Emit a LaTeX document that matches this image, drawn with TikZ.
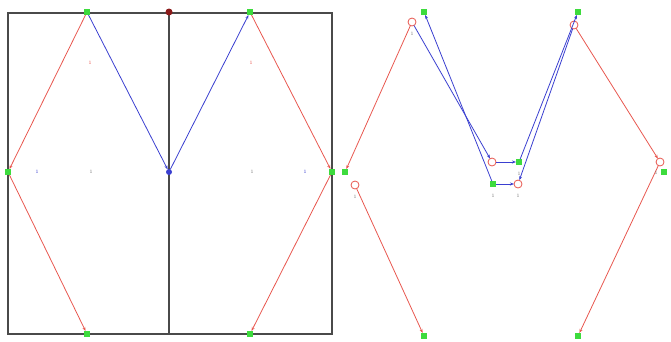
\documentclass[tikz,border=0pt]{standalone}
\usepackage{tikz}
\usetikzlibrary{arrows.meta}
\usepackage{xcolor}
\definecolor{marco}{HTML}{4A4A4A}
\definecolor{rojo}{HTML}{E8574F}
\definecolor{azul}{HTML}{3A3FD0}
\definecolor{verdeN}{HTML}{3DDB3D}
\definecolor{granate}{HTML}{8B1A1A}
\definecolor{etiq}{HTML}{7A7A7A}
\begin{document}
\begin{tikzpicture}[x=1pt,y=-1pt,
    every node/.style={inner sep=0pt,outer sep=0pt},
    gsq/.style={fill=verdeN,minimum size=6pt},
    rdot/.style={circle,fill=granate,minimum size=7pt},
    bdot/.style={circle,fill=azul,minimum size=6pt},
    rcirc/.style={circle,draw=rojo,fill=white,line width=0.8pt,minimum size=8pt},
    tag/.style={font=\fontsize{5}{5}\selectfont,text=etiq},
    redl/.style={rojo,line width=0.8pt,-{Stealth[length=4pt,width=3pt]}},
    bluel/.style={azul,line width=0.8pt,-{Stealth[length=4pt,width=3pt]}}
  ]
    \useasboundingbox (0,0) rectangle (671,341);
    % left panel
    \draw[marco,line width=2.5pt] (8,13) rectangle (332,334);
    \draw[marco,line width=2.5pt] (169,13) -- (169,334);
    \node[gsq] (ltl) at (87,12) {};
    \node[rdot] (ltm) at (169,12) {};
    \node[gsq] (ltr) at (250,12) {};
    \node[gsq] (lml) at (8,172) {};
    \node[bdot] (lc) at (169,172) {};
    \node[gsq] (lmr) at (332,172) {};
    \node[gsq] (lbl) at (87,334) {};
    \node[gsq] (lbr) at (250,334) {};
    \draw[redl] (ltl) -- (lml);
    \draw[redl] (lml) -- (lbl);
    \draw[redl] (ltr) -- (lmr);
    \draw[redl] (lmr) -- (lbr);
    \draw[bluel] (ltl) -- (lc);
    \draw[bluel] (lc) -- (ltr);
    \node[tag,text=rojo] (n1) at (90,63) {1};
    \node[tag,text=rojo] (n2) at (251,63) {1};
    \node[tag,text=azul] (n3) at (37,172) {1};
    \node[tag] (n4) at (91,172) {1};
    \node[tag] (n5) at (252,172) {1};
    \node[tag,text=azul] (n6) at (305,172) {1};
    % right panel
    \node[gsq] (rta) at (424,12) {};
    \node[rcirc] (rca) at (412,22) {};
    \node[gsq] (rtb) at (578,12) {};
    \node[rcirc] (rcb) at (574,25) {};
    \node[gsq] (rml) at (345,172) {};
    \node[rcirc] (rcl) at (355,185) {};
    \node[rcirc] (rcm) at (492,162) {};
    \node[gsq] (rgm) at (519,162) {};
    \node[gsq] (rgn) at (493,184) {};
    \node[rcirc] (rcn) at (518,184) {};
    \node[rcirc] (rcr) at (660,162) {};
    \node[gsq] (rmr) at (664,172) {};
    \node[gsq] (rba) at (424,336) {};
    \node[gsq] (rbb) at (578,336) {};
    \draw[redl] (rca) -- (rml);
    \draw[redl] (rcl) -- (rba);
    \draw[redl] (rcb) -- (rcr);
    \draw[redl] (rcr) -- (rbb);
    \draw[bluel] (rca) -- (rcm);
    \draw[bluel] (rgn) -- (rta);
    \draw[bluel] (rcm) -- (rgm);
    \draw[bluel] (rgn) -- (rcn);
    \draw[bluel] (rgm) -- (rtb);
    \draw[bluel] (rcb) -- (rcn);
    \node[tag] (m1) at (412,34) {1};
    \node[tag] (m2) at (355,197) {1};
    \node[tag] (m3) at (519,174) {1};
    \node[tag] (m4) at (493,196) {1};
    \node[tag] (m5) at (518,196) {1};
    \node[tag] (m6) at (656,173) {1};
  \end{tikzpicture}
\end{document}
